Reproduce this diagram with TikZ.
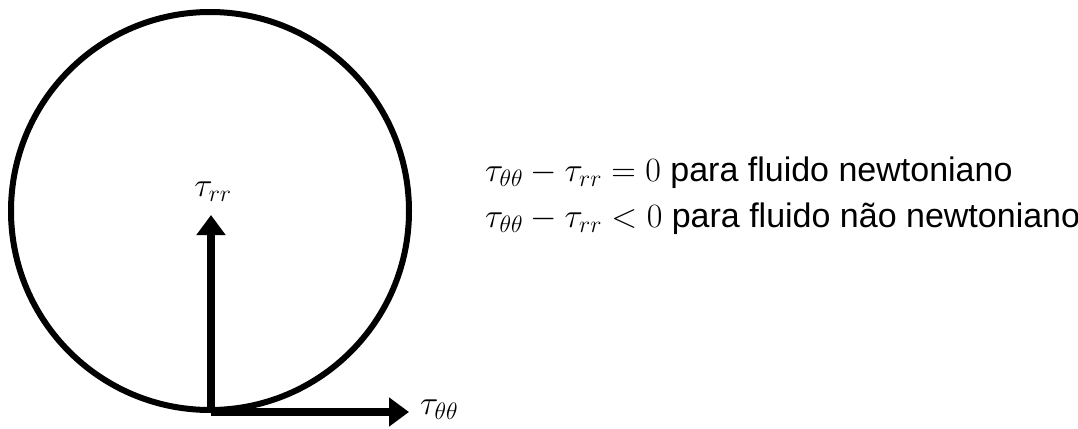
\RequirePackage{fix-cm}
\documentclass[tikz,border=0pt]{standalone}
\usepackage{fontspec}
\setmainfont{Liberation Sans}
\usetikzlibrary{arrows.meta}
\begin{document}
\begin{tikzpicture}[x=1pt,y=-1pt,
  stress/.style={line width=8pt,-{Triangle[length=20pt,width=28pt]}},
  lbl/.style={font=\fontsize{34}{40}\selectfont,inner sep=0pt}]
\useasboundingbox (0,0) rectangle (1078,428);
\draw[line width=6pt] (210,211) circle[radius=199];
\coordinate (o) at (211,412);
\coordinate (rtip) at (211,215);
\coordinate (ttip) at (409,412);
\draw[stress] (o) -- (rtip);
\draw[stress] (o) -- (ttip);
\node[lbl] (trr) at (213,192) {$\tau_{rr}$};
\node[lbl,anchor=west] (ttt) at (420,410) {$\tau_{\theta\theta}$};
\node[lbl,anchor=base west] (eq1) at (485,181) {$\tau_{\theta\theta}-\tau_{rr}=0$ para fluido newtoniano};
\node[lbl,anchor=base west] (eq2) at (485,227) {$\tau_{\theta\theta}-\tau_{rr}<0$ para fluido não newtoniano};
\end{tikzpicture}
\end{document}
